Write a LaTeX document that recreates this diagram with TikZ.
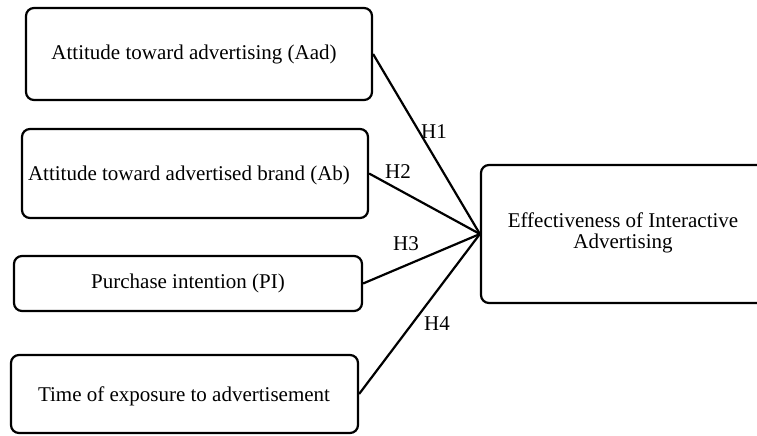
\documentclass[tikz,border=0pt]{standalone}
\usepackage{fontspec}
\setmainfont{Liberation Serif}
\begin{document}
\begin{tikzpicture}[x=1pt,y=-1pt,
  every node/.style={font=\fontsize{21}{22}\selectfont},
  factor/.style={draw, line width=2.2pt, rounded corners=8pt, inner sep=0pt},
  caption/.style={inner sep=0pt, align=center},
  link/.style={line width=2.2pt},
  hyp/.style={inner sep=0pt}]
  \useasboundingbox (0,0) rectangle (757,436);
  \clip (0,0) rectangle (757,436);

  % predictor boxes
  \node[factor, minimum width=346pt, minimum height=92pt] (aad) at (199,54) {};
  \node[factor, minimum width=346pt, minimum height=89pt] (ab) at (195,173.5) {};
  \node[factor, minimum width=348pt, minimum height=55pt] (pi) at (188,283.5) {};
  \node[factor, minimum width=347pt, minimum height=78pt] (time) at (184.5,394) {};

  % outcome box
  \node[factor, minimum width=284pt, minimum height=138pt] (eff) at (623,234) {};

  % box captions
  \node[caption] (aadtxt) at (194,54) {Attitude toward advertising (Aad)};
  \node[caption] (abtxt) at (189,175) {Attitude toward advertised brand (Ab)};
  \node[caption] (pitxt) at (188,283) {Purchase intention (PI)};
  \node[caption] (timetxt) at (184,396) {Time of exposure to advertisement};
  \node[caption] (efftxt) at (623,233) {Effectiveness of Interactive\\[-1pt]Advertising};

  % hypothesised paths
  \draw[link] (aad.east) -- (eff.west);
  \draw[link] (ab.east) -- (eff.west);
  \draw[link] (pi.east) -- (eff.west);
  \draw[link] (time.east) -- (eff.west);

  % path labels
  \node[hyp] (h1) at (434,132) {H1};
  \node[hyp] (h2) at (398,172) {H2};
  \node[hyp] (h3) at (406,244) {H3};
  \node[hyp] (h4) at (437,324) {H4};
\end{tikzpicture}
\end{document}
